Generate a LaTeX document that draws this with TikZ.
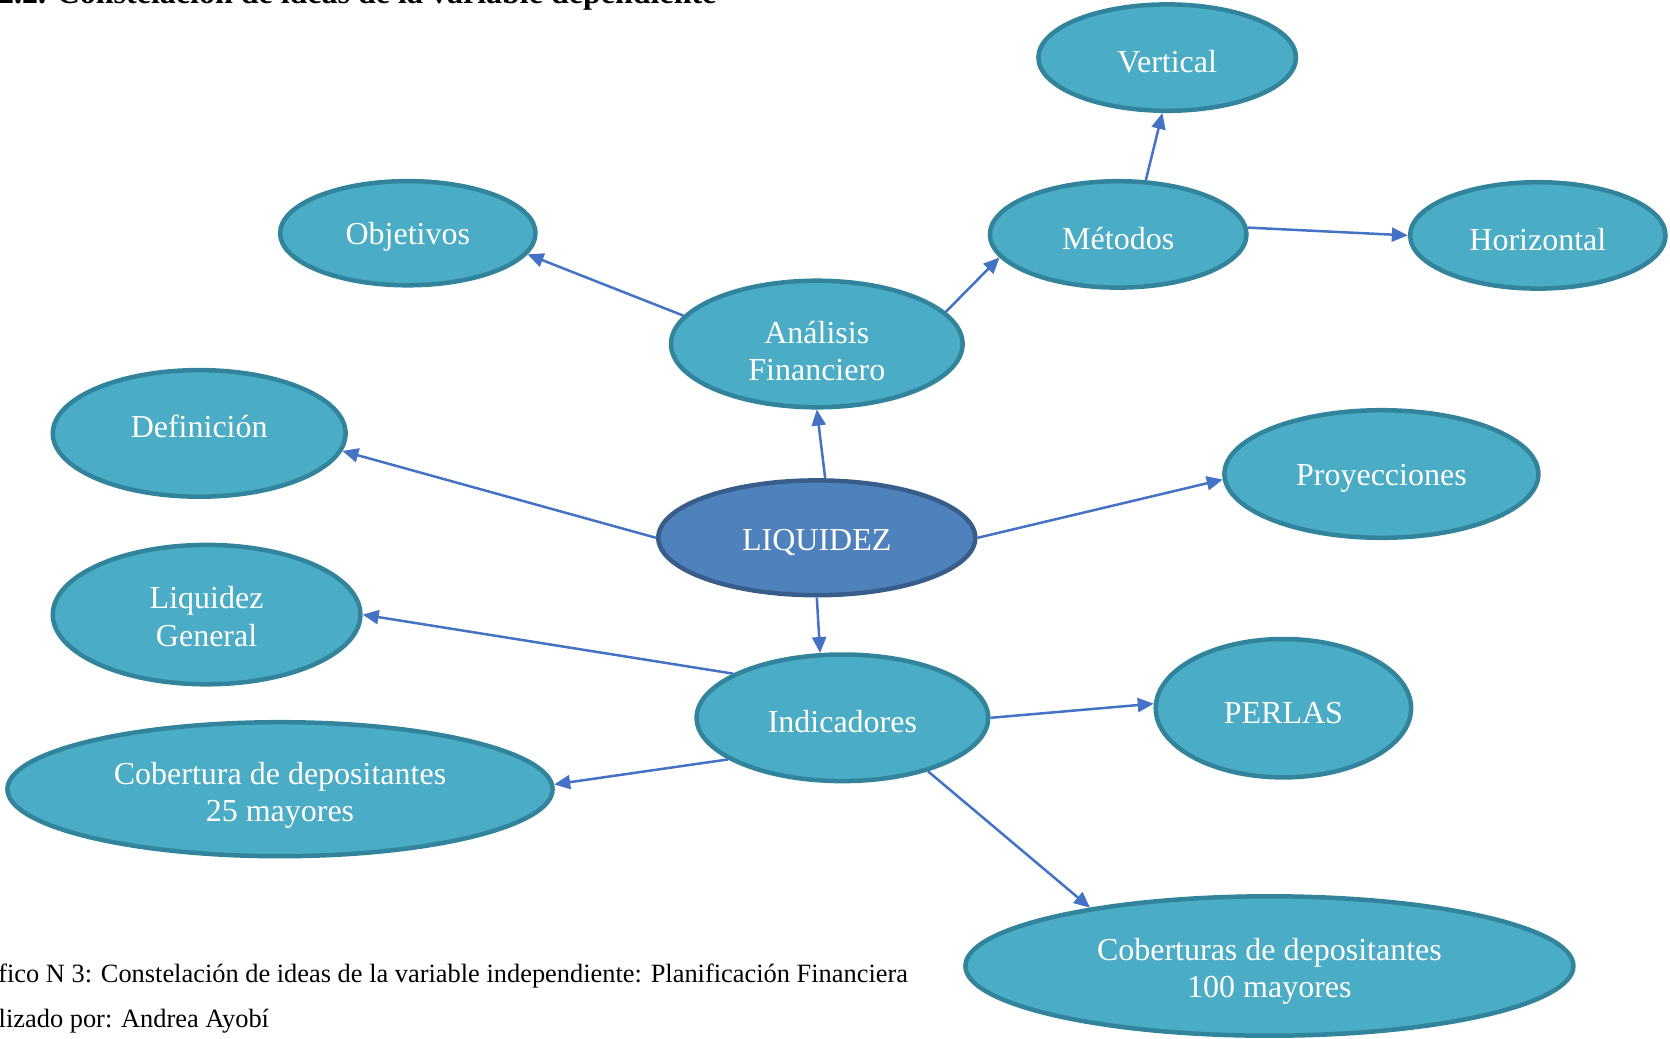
\documentclass[tikz,border=0pt]{standalone}
\usepackage{fontspec}
\setmainfont{Liberation Serif}
\usetikzlibrary{shapes.geometric,arrows.meta}
\definecolor{ideafill}{HTML}{4BACC6}
\definecolor{ideadraw}{HTML}{31849B}
\definecolor{corefill}{HTML}{4F81BD}
\definecolor{coredraw}{HTML}{385D8A}
\definecolor{linkblue}{HTML}{4472C4}
\newcommand{\lift}[1]{\rule{0pt}{#1}}
\begin{document}
\begin{tikzpicture}[x=1pt,y=1pt,
  idea/.style={ellipse, draw=ideadraw, fill=ideafill, line width=2.25pt, text=white,
    inner sep=0pt, align=center, font=\fontsize{16}{18.6}\selectfont,
    execute at begin node={\rule{0pt}{15pt}}},
  core/.style={idea, draw=coredraw, fill=corefill},
  link/.style={draw=linkblue, line width=1.25pt, -{Triangle[length=8pt,width=7pt]}}]
\useasboundingbox (0,0) rectangle (835,-519.2);
% cut-off heading and caption
\node[anchor=base east, inner sep=0pt, font=\fontsize{16}{19}\selectfont\bfseries] (titulo) at (358.4,-1.7)
{2.2. Constelación de ideas de la variable dependiente};
\node[anchor=base east, inner sep=0pt, font=\fontsize{13.2}{16}\selectfont] (grafico) at (454.2,-491.0)
{Gráfico N 3: Constelación de ideas de la variable independiente: Planificación Financiera};
\node[anchor=base east, inner sep=0pt, font=\fontsize{13.2}{16}\selectfont] (autor) at (134.7,-513.9)
{Realizado por: Andrea Ayobí};
% ideas
\node[core, minimum width=158.5pt, minimum height=57.4pt] (liq) at (408.4,-268.9) {LIQUIDEZ};
\node[idea, minimum width=145.8pt, minimum height=63.3pt] (ana) at (408.4,-172.0) {\lift{18.5pt}Análisis\\Financiero};
\node[idea, minimum width=127.7pt, minimum height=52.1pt] (obj) at (203.9,-116.6) {Objetivos};
\node[idea, minimum width=128.3pt, minimum height=53.2pt] (met) at (559.1,-117.2) {Métodos};
\node[idea, minimum width=128.8pt, minimum height=53.2pt] (ver) at (583.6,-28.8) {Vertical};
\node[idea, minimum width=127.7pt, minimum height=53.2pt] (hor) at (768.9,-117.7) {Horizontal};
\node[idea, minimum width=146.4pt, minimum height=63.3pt] (def) at (99.6,-216.7) {Definición\rule[-10.6pt]{0pt}{0pt}};
\node[idea, minimum width=157pt, minimum height=63.8pt] (pro) at (690.7,-237.0) {Proyecciones};
\node[idea, minimum width=145.8pt, minimum height=63.3pt] (ind) at (421.2,-358.9) {Indicadores};
\node[idea, minimum width=153.8pt, minimum height=69.7pt] (gen) at (103.3,-307.3) {\lift{13pt}Liquidez\\General};
\node[idea, minimum width=127.7pt, minimum height=69.2pt] (per) at (641.7,-354.1) {PERLAS};
\node[idea, minimum width=272.6pt, minimum height=67pt] (c25) at (140.0,-394.6) {\lift{17.4pt}Cobertura de depositantes\\25 mayores};
\node[idea, minimum width=304pt, minimum height=69.7pt] (c100) at (634.7,-483.0) {\lift{16.5pt}Coberturas de depositantes\\100 mayores};
% links
\draw[link] (liq.82) -- (ana.270);
\draw[link] (ana.168) -- (obj.350);
\draw[link] (ana.14) -- (met.191);
\draw[link] (met.63) -- (ver.265);
\draw[link] (met.3) -- (hor.180);
\draw[link] (liq.180) -- (def.-7);
\draw[link] (liq.0) -- (pro.182);
\draw[link] (liq.270) -- (ind.109);
\draw[link] (ind.158) -- (gen.0);
\draw[link] (ind.0) -- (per.178);
\draw[link] (ind.200) -- (c25.1);
\draw[link] (ind.328) -- (c100.162);
\end{tikzpicture}
\end{document}
